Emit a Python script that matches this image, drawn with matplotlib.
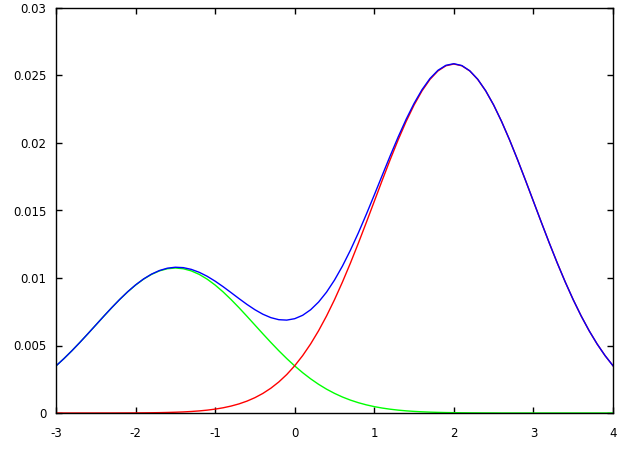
import matplotlib
matplotlib.use("Agg")
import matplotlib.pyplot as plt

x = [round(-3 + 0.1 * i, 1) for i in range(71)]

green = [0.003487, 0.004031, 0.004613, 0.005228, 0.005865, 0.006514, 0.007163, 0.007799,
         0.008406, 0.008971, 0.009478, 0.009914, 0.010267, 0.010527, 0.010687, 0.01074,
         0.010687, 0.010527, 0.010267, 0.009914, 0.009478, 0.008971, 0.008406, 0.007799,
         0.007163, 0.006514, 0.005865, 0.005228, 0.004613, 0.004031, 0.003487, 0.002986,
         0.002532, 0.002125, 0.001766, 0.001454, 0.001184, 0.000955, 0.000763, 0.000603,
         0.000472, 0.000366, 0.000281, 0.000213, 0.000160, 0.000119, 0.000088, 0.000064,
         0.000046, 0.000033, 0.000024, 0.000016, 0.000011, 0.000008, 0.000005, 0.000004,
         0.0, 0.0, 0.0, 0.0, 0.0, 0.0, 0.0, 0.0, 0.0, 0.0, 0.0, 0.0, 0.0, 0.0, 0.0]

red = [0.0, 0.0, 0.0, 0.000001, 0.000001, 0.000001, 0.000002, 0.000002,
       0.000004, 0.000006, 0.000009, 0.000013, 0.000019, 0.000027, 0.000040, 0.000057,
       0.000080, 0.000112, 0.000155, 0.000212, 0.000287, 0.000386, 0.000513, 0.000675,
       0.000880, 0.001136, 0.001451, 0.001836, 0.002299, 0.002850, 0.003499, 0.004252,
       0.005116, 0.006094, 0.007187, 0.008392, 0.009702, 0.011104, 0.012582, 0.014116,
       0.015679, 0.017241, 0.018771, 0.020233, 0.021592, 0.022813, 0.023863, 0.024713,
       0.025338, 0.025721, 0.02585, 0.025721, 0.025338, 0.024713, 0.023863, 0.022813,
       0.021592, 0.020233, 0.018771, 0.017241, 0.015679, 0.014116, 0.012582, 0.011104,
       0.009702, 0.008392, 0.007187, 0.006094, 0.005116, 0.004252, 0.003499]

blue = [0.003487, 0.004031, 0.004613, 0.005229, 0.005866, 0.006515, 0.007165, 0.007801,
        0.008410, 0.008977, 0.009487, 0.009927, 0.010286, 0.010554, 0.010727, 0.010797,
        0.010767, 0.010639, 0.010422, 0.010126, 0.009765, 0.009357, 0.008919, 0.008474,
        0.008043, 0.007650, 0.007316, 0.007064, 0.006912, 0.006881, 0.006986, 0.007238,
        0.007648, 0.008219, 0.008953, 0.009846, 0.010886, 0.012059, 0.013345, 0.014719,
        0.016151, 0.017607, 0.019052, 0.020446, 0.021752, 0.022932, 0.023951, 0.024777,
        0.025384, 0.025754, 0.025874, 0.025737, 0.025349, 0.024721, 0.023868, 0.022817,
        0.021592, 0.020233, 0.018771, 0.017241, 0.015679, 0.014116, 0.012582, 0.011104,
        0.009702, 0.008392, 0.007187, 0.006094, 0.005116, 0.004252, 0.003499]

xticks = [-3, -2, -1, 0, 1, 2, 3, 4]
yticks = [0, 0.005, 0.01, 0.015, 0.02, 0.025, 0.03]
ytick_labels = ["0", "0.005", "0.01", "0.015", "0.02", "0.025", "0.03"]

fig = plt.figure(figsize=(6.4, 4.5), dpi=100)
ax = fig.add_axes([56 / 640, 1 - 413 / 450, 557 / 640, 405 / 450])

ax.plot(x, green, color="#00ff00", lw=1.0)
ax.plot(x, red, color="#ff0000", lw=1.0)
ax.plot(x, blue, color="#0000ff", lw=1.0)

ax.set_xlim(-3, 4)
ax.set_ylim(0, 0.03)
ax.set_xticks(xticks)
ax.set_xticklabels([str(t) for t in xticks])
ax.set_yticks(yticks)
ax.set_yticklabels(ytick_labels)

ax.tick_params(direction="in", top=True, right=True, length=4, width=1,
               labelsize=8.5)
ax.tick_params(axis="x", pad=10)
ax.tick_params(axis="y", pad=7)
for s in ax.spines.values():
    s.set_linewidth(1.0)
    s.set_color("black")

fig.savefig("out.png", dpi=100)
